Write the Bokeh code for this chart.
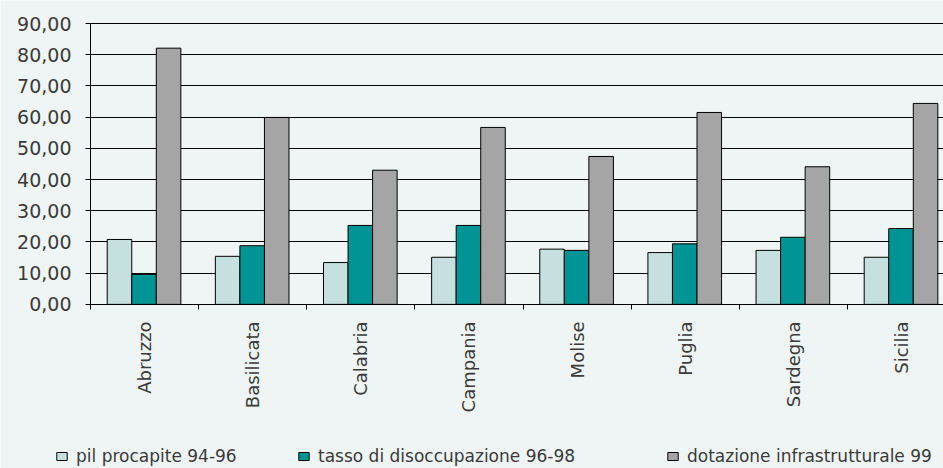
import numpy as np
from bokeh.plotting import figure
from bokeh.models import (ColumnDataSource, Range1d, FixedTicker, Legend, LegendItem, LinearAxis)
from bokeh.transform import dodge
from bokeh.embed import file_html
from bokeh.resources import INLINE

regions = ["Abruzzo", "Basilicata", "Calabria", "Campania", "Molise", "Puglia", "Sardegna", "Sicilia"]
pil = [20.8, 15.4, 13.4, 15.1, 17.7, 16.6, 17.3, 15.1]
tasso = [9.6, 18.8, 25.3, 25.3, 17.3, 19.4, 21.5, 24.3]
dotazione = [82.1, 59.9, 43.0, 56.7, 47.4, 61.5, 44.1, 64.4]
series_names = ["pil procapite 94-96", "tasso di disoccupazione 96-98", "dotazione infrastrutturale 99"]
y_ticks = [0, 10, 20, 30, 40, 50, 60, 70, 80, 90]
y_tick_labels = ["0,00", "10,00", "20,00", "30,00", "40,00", "50,00", "60,00", "70,00", "80,00", "90,00"]

BG = "#EFF5F5"
TXT = "#3a3a3a"
FONT = "DejaVu Sans"

W, H = 943, 468
centers = list(np.arange(len(regions)) + 0.5)
src = ColumnDataSource(dict(x=centers, pil=pil, tasso=tasso, dot=dotazione))

# frame covers whole figure; axes sit at fixed locations inside it
cat_px = 108.14
y_px = 3.1185
p = figure(width=W, height=H, output_backend="svg", toolbar_location=None,
           x_range=Range1d(-90 / cat_px, 853 / cat_px),
           y_range=Range1d(-164 / y_px, 90 + 23 / y_px),
           x_axis_location=None, y_axis_location=None,
           min_border=0)
p.background_fill_color = BG
p.border_fill_color = BG
p.outline_line_color = None

w = 0.227
r1 = p.vbar(x=dodge("x", -0.232, range=p.x_range), top="pil", width=w, source=src,
            fill_color="#C6E0E0", line_color="black", line_width=1)
r2 = p.vbar(x=dodge("x", -0.005, range=p.x_range), top="tasso", width=w, source=src,
            fill_color="#009494", line_color="black", line_width=1)
r3 = p.vbar(x=dodge("x", 0.222, range=p.x_range), top="dot", width=w, source=src,
            fill_color="#A5A5A5", line_color="black", line_width=1)

# y axis
yaxis = LinearAxis(fixed_location=0, bounds=(0, 90))
yaxis.ticker = FixedTicker(ticks=y_ticks)
yaxis.major_label_overrides = {t: l for t, l in zip(y_ticks, y_tick_labels)}
yaxis.axis_line_color = "black"
yaxis.major_tick_line_color = "black"
yaxis.major_tick_out = 5
yaxis.major_tick_in = 0
yaxis.minor_tick_line_color = None
yaxis.major_label_standoff = 14
yaxis.major_label_text_font = FONT
yaxis.major_label_text_font_size = "19px"
yaxis.major_label_text_color = TXT
p.add_layout(yaxis, "left")

# x axis
xaxis = LinearAxis(fixed_location=0, bounds=(0, 853 / cat_px))
xaxis.ticker = FixedTicker(ticks=centers, minor_ticks=list(range(0, len(regions) + 1)))
xaxis.major_label_overrides = {c: r for c, r in zip(centers, regions)}
xaxis.major_label_orientation = np.pi / 2
xaxis.axis_line_color = "black"
xaxis.major_tick_line_color = None
xaxis.major_tick_out = 0
xaxis.major_tick_in = 0
xaxis.minor_tick_line_color = "black"
xaxis.minor_tick_out = 5
xaxis.minor_tick_in = 0
xaxis.major_label_standoff = 12
xaxis.major_label_text_font = FONT
xaxis.major_label_text_font_size = "18px"
xaxis.major_label_text_color = TXT
p.add_layout(xaxis, "below")

# grid
p.xgrid.grid_line_color = None
p.ygrid.ticker = FixedTicker(ticks=y_ticks[1:])
p.ygrid.grid_line_color = "black"
p.ygrid.grid_line_width = 1
p.ygrid.cross_bounds = (0, 853 / cat_px)

# legends (three separate, positioned)
for r, name, xloc in [(r1, series_names[0], 55), (r2, series_names[1], 297), (r3, series_names[2], 666)]:
    lg = Legend(items=[LegendItem(label=name, renderers=[r])], location=(xloc, 2),
                orientation="horizontal", padding=0, margin=0, spacing=0,
                glyph_width=13, glyph_height=10, label_standoff=8,
                label_text_font=FONT, label_text_font_size="17px", label_text_color=TXT,
                background_fill_alpha=0, border_line_color=None)
    p.add_layout(lg, "center")

open("out.html", "w").write(file_html(p, INLINE))
